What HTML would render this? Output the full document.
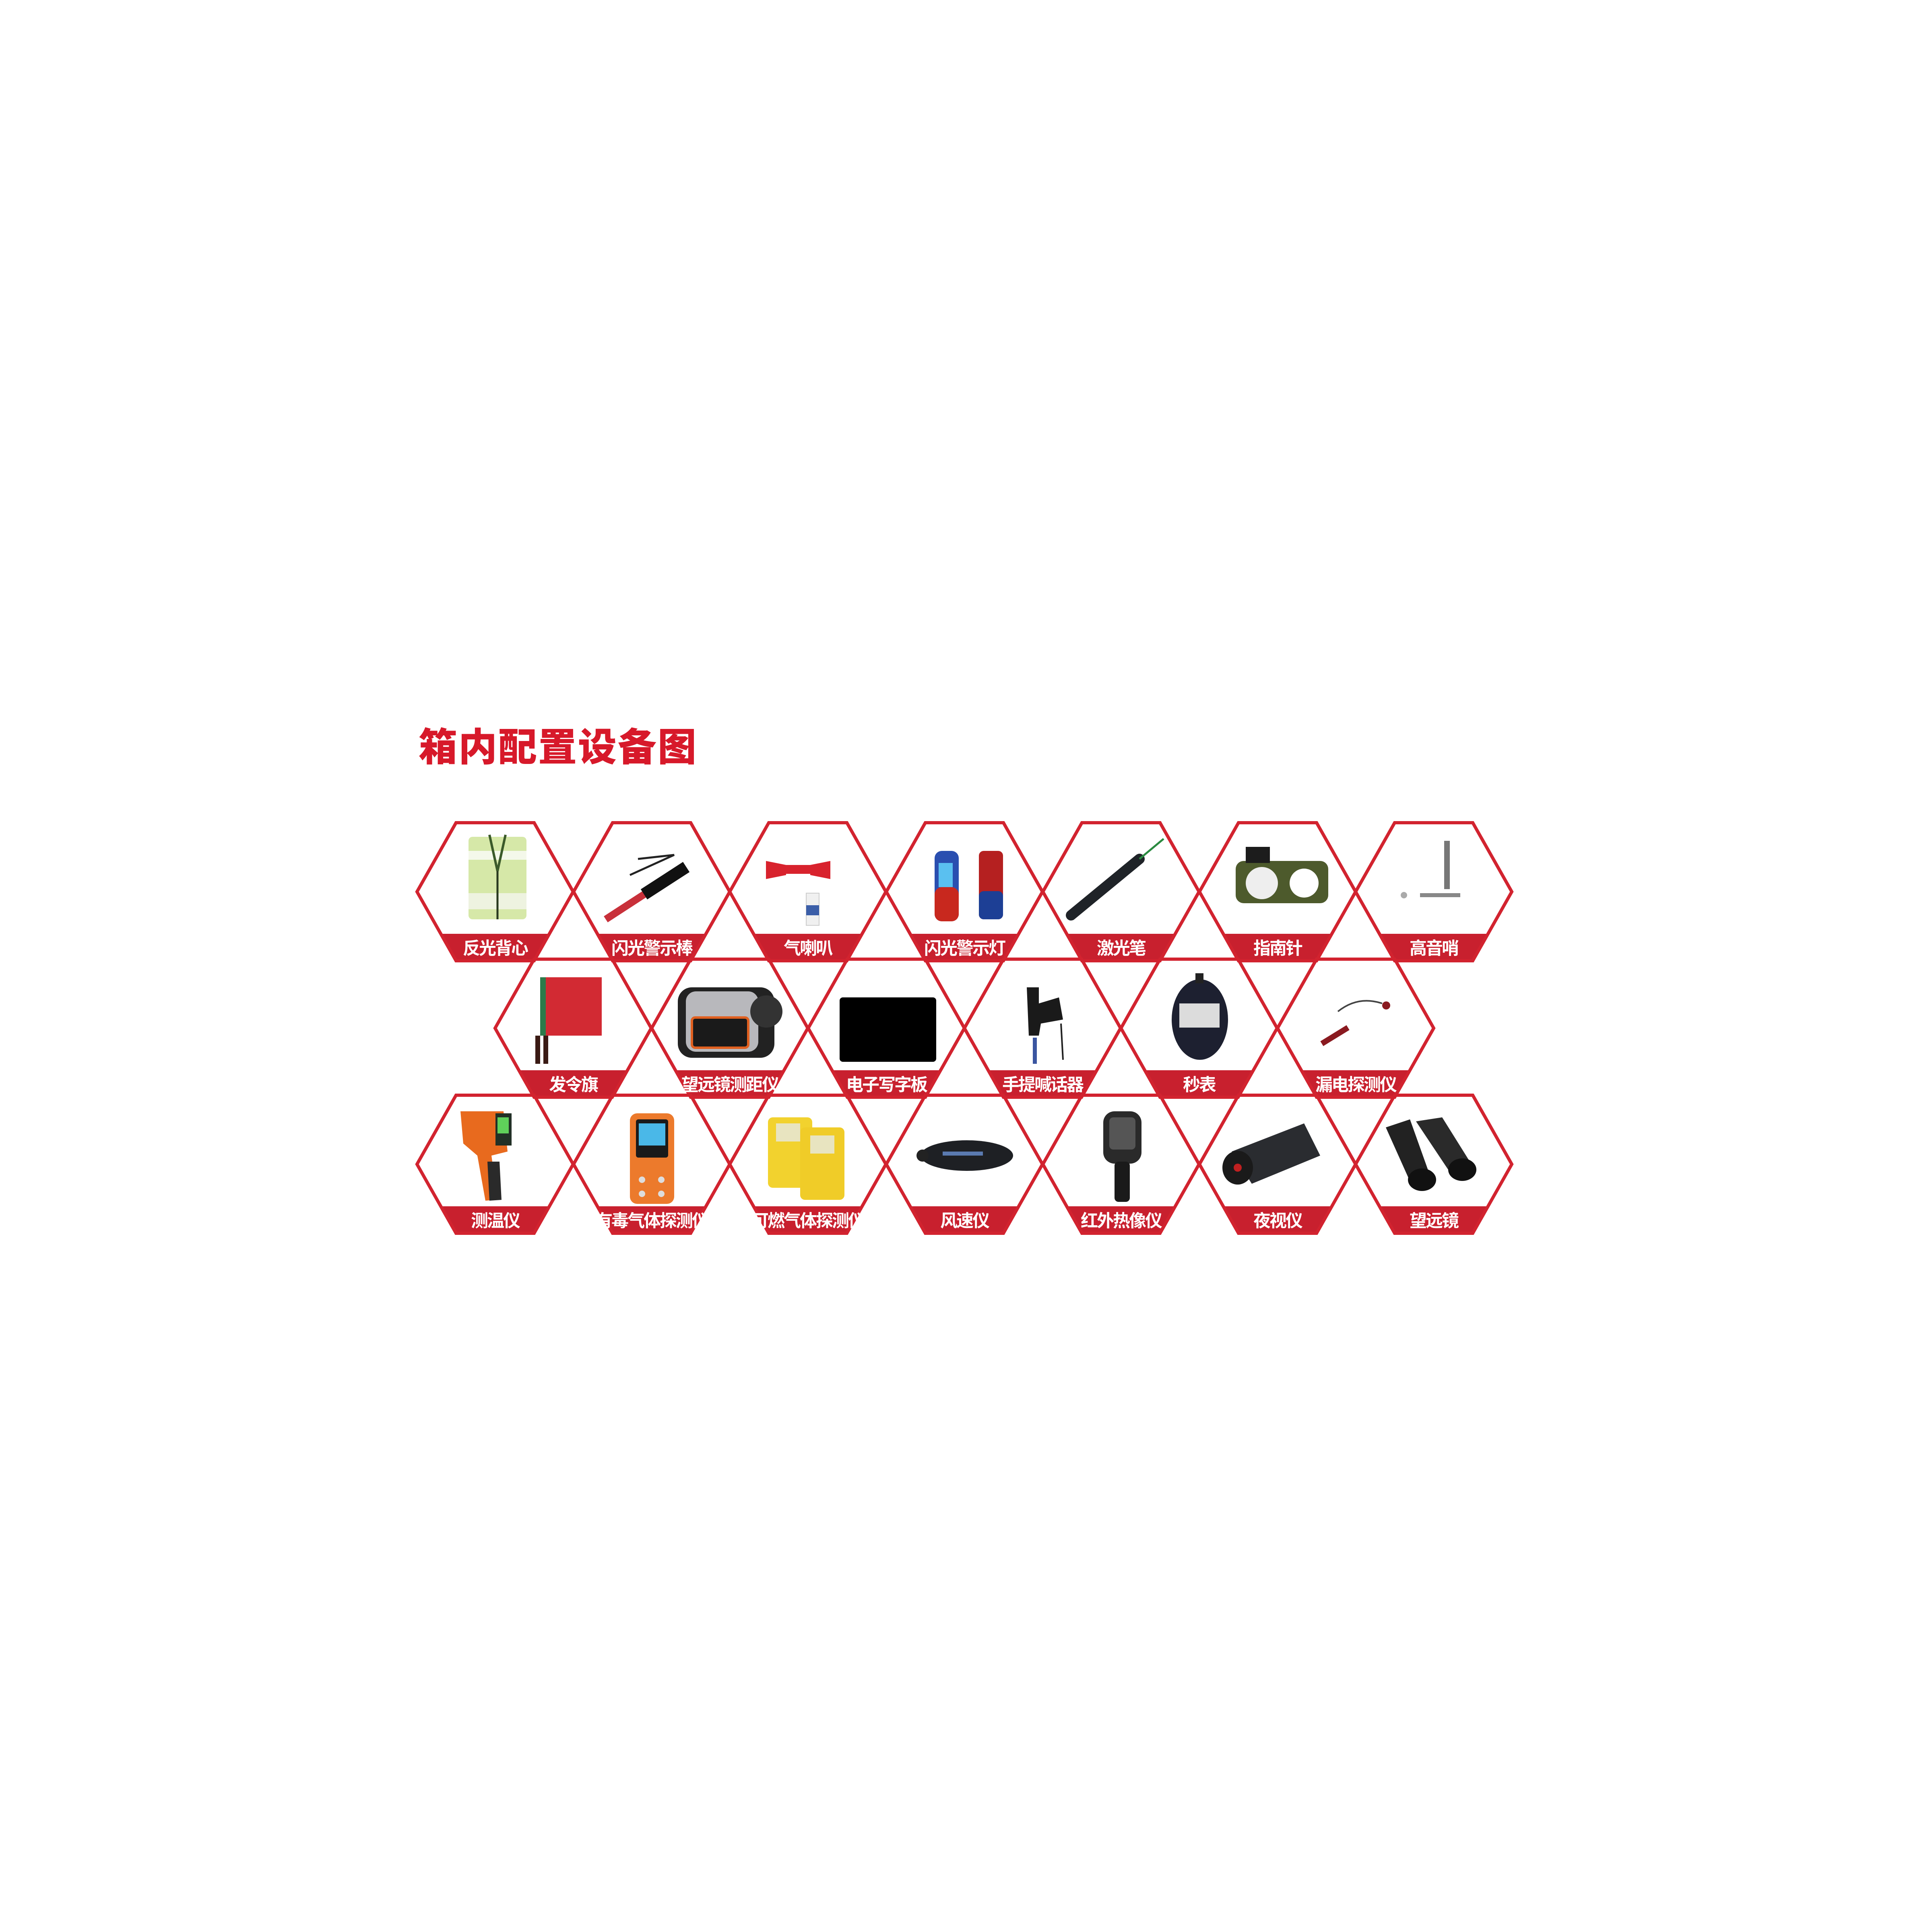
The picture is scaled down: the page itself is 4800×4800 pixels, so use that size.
<!DOCTYPE html>
<html><head><meta charset="utf-8"><style>
html,body{margin:0;padding:0;background:#fff;}
svg{display:block;}
.t{font-family:"Liberation Sans","Noto Sans CJK SC",sans-serif;font-weight:bold;fill:#fff;font-size:43px;text-anchor:middle;letter-spacing:-3px;}
.title{font-family:"Liberation Sans","Noto Sans CJK SC",sans-serif;font-weight:900;fill:#d7192a;font-size:96px;letter-spacing:3px;}
</style></head><body>
<svg width="4800" height="4800" viewBox="0 0 4800 4800" xmlns="http://www.w3.org/2000/svg">
<defs>
<g id="hx">
<polygon points="59,276 329,276 291,343 97,343" fill="#c8202e"/>
<polygon points="0,171.5 97,0 291,0 388,171.5 291,343 97,343" fill="none" stroke="#d2232f" stroke-width="8"/>
</g>
</defs>
<rect width="4800" height="4800" fill="#fff"/>
<text class="title" x="1040" y="1890">箱内配置设备图</text>

<!-- Row 1 -->
<g transform="translate(1036,2044)"><use href="#hx"/>
<rect x="128" y="35" width="144" height="205" rx="10" fill="#d6e8a8"/><rect x="128" y="70" width="144" height="22" fill="#f4f8ea"/><rect x="128" y="175" width="144" height="40" fill="#eef3e0"/><path d="M180 30 L200 120 L220 30" fill="none" stroke="#3b5a2a" stroke-width="6"/><line x1="200" y1="120" x2="200" y2="240" stroke="#2a3a20" stroke-width="5"/>
<text class="t" x="194" y="327">反光背心</text></g>
<g transform="translate(1425,2044)"><use href="#hx"/>
<line x1="80" y1="240" x2="180" y2="175" stroke="#c8303a" stroke-width="18"/><line x1="175" y1="178" x2="280" y2="110" stroke="#111" stroke-width="30"/><path d="M160 90 L250 80 L140 130" fill="none" stroke="#222" stroke-width="5"/>
<text class="t" x="194" y="327">闪光警示棒</text></g>
<g transform="translate(1813,2044)"><use href="#hx"/>
<path d="M90 95 L140 105 L140 130 L90 140Z" fill="#d8222d"/><path d="M250 95 L200 105 L200 130 L250 140Z" fill="#d8222d"/><rect x="138" y="105" width="64" height="22" fill="#d8222d"/>
<rect x="190" y="175" width="32" height="80" fill="#f0f0f0" stroke="#ccc" stroke-width="2"/><rect x="190" y="205" width="32" height="25" fill="#3b5ea8"/>
<text class="t" x="194" y="327">气喇叭</text></g>
<g transform="translate(2202,2044)"><use href="#hx"/>
<rect x="120" y="70" width="60" height="175" rx="18" fill="#2a4fb0"/><rect x="120" y="160" width="60" height="85" rx="18" fill="#c8281e"/><rect x="130" y="100" width="35" height="60" fill="#5ac0f0"/>
<rect x="230" y="70" width="60" height="170" rx="12" fill="#b52020"/><rect x="230" y="170" width="60" height="70" rx="12" fill="#1d3f95"/>
<text class="t" x="194" y="327">闪光警示灯</text></g>
<g transform="translate(2591,2044)"><use href="#hx"/>
<line x1="70" y1="230" x2="240" y2="90" stroke="#1f2328" stroke-width="26" stroke-linecap="round"/><line x1="240" y1="90" x2="300" y2="40" stroke="#2a8a40" stroke-width="5"/>
<text class="t" x="194" y="327">激光笔</text></g>
<g transform="translate(2980,2044)"><use href="#hx"/>
<rect x="90" y="95" width="230" height="105" rx="20" fill="#4d5a2c"/><circle cx="155" cy="150" r="40" fill="#eee"/><circle cx="260" cy="150" r="36" fill="#fff"/><rect x="115" y="60" width="60" height="40" fill="#1c1c1c"/>
<text class="t" x="194" y="327">指南针</text></g>
<g transform="translate(3368,2044)"><use href="#hx"/>
<rect x="220" y="45" width="14" height="120" fill="#777"/><rect x="160" y="175" width="100" height="10" fill="#888"/><circle cx="120" cy="180" r="8" fill="#aaa"/>
<text class="t" x="194" y="327">高音哨</text></g>

<!-- Row 2 -->
<g transform="translate(1230,2383)"><use href="#hx"/>
<rect x="115" y="45" width="150" height="145" fill="#d22a33"/><rect x="112" y="45" width="14" height="145" fill="#2c7a4a"/><rect x="100" y="190" width="12" height="70" fill="#3a1a14"/><rect x="120" y="190" width="12" height="70" fill="#3a1a14"/>
<text class="t" x="194" y="327">发令旗</text></g>
<g transform="translate(1619,2383)"><use href="#hx"/>
<rect x="65" y="70" width="240" height="175" rx="35" fill="#222"/><rect x="85" y="80" width="180" height="150" rx="25" fill="#b8b8bc"/><rect x="100" y="145" width="140" height="75" rx="8" fill="#1a1a1a" stroke="#e06020" stroke-width="6"/><circle cx="285" cy="130" r="40" fill="#333"/>
<text class="t" x="194" y="327">望远镜测距仪</text></g>
<g transform="translate(2008,2383)"><use href="#hx"/>
<rect x="78" y="95" width="240" height="160" rx="8" fill="#000"/>
<text class="t" x="194" y="327">电子写字板</text></g>
<g transform="translate(2396,2383)"><use href="#hx"/>
<path d="M155 70 L185 70 L185 110 L235 95 L245 150 L190 160 L185 190 L160 190Z" fill="#1a1a1a"/><rect x="170" y="195" width="10" height="65" fill="#3a55a0"/><line x1="240" y1="160" x2="245" y2="250" stroke="#222" stroke-width="4"/>
<text class="t" x="194" y="327">手提喊话器</text></g>
<g transform="translate(2785,2383)"><use href="#hx"/>
<ellipse cx="196" cy="150" rx="70" ry="100" fill="#1d2030"/><rect x="145" y="110" width="100" height="60" fill="#dcdcdc"/><rect x="185" y="35" width="20" height="25" fill="#222"/>
<text class="t" x="194" y="327">秒表</text></g>
<g transform="translate(3174,2383)"><use href="#hx"/>
<line x1="110" y1="210" x2="175" y2="170" stroke="#8a1a20" stroke-width="14"/><path d="M150 130 Q200 90 260 110" fill="none" stroke="#444" stroke-width="4"/><circle cx="270" cy="115" r="10" fill="#8a1a20"/>
<text class="t" x="194" y="327">漏电探测仪</text></g>

<!-- Row 3 -->
<g transform="translate(1036,2721)"><use href="#hx"/>
<path d="M108 40 L215 40 L225 140 L185 150 L200 260 L170 262 L150 150 L115 120Z" fill="#e86a1e"/><rect x="195" y="45" width="40" height="80" fill="#223026"/><rect x="200" y="55" width="28" height="40" fill="#5fd05a"/><path d="M175 165 L205 165 L210 260 L180 262Z" fill="#2a2a2a"/>
<text class="t" x="194" y="327">测温仪</text></g>
<g transform="translate(1425,2721)"><use href="#hx"/>
<rect x="140" y="45" width="110" height="225" rx="18" fill="#ec7a2c"/><rect x="155" y="60" width="80" height="95" rx="6" fill="#1a1a1a"/><rect x="162" y="70" width="66" height="55" fill="#4ab8e8"/><circle cx="170" cy="210" r="8" fill="#ddd"/><circle cx="218" cy="210" r="8" fill="#ddd"/><circle cx="170" cy="245" r="8" fill="#ddd"/><circle cx="218" cy="245" r="8" fill="#ddd"/>
<text class="t" x="194" y="327">有毒气体探测仪</text></g>
<g transform="translate(1813,2721)"><use href="#hx"/>
<rect x="95" y="55" width="110" height="175" rx="12" fill="#f2d22e"/><rect x="175" y="80" width="110" height="180" rx="12" fill="#f0cc28"/><rect x="115" y="70" width="60" height="45" fill="#e8e4c0"/><rect x="200" y="100" width="60" height="45" fill="#e8e4c0"/>
<text class="t" x="194" y="327">可燃气体探测仪</text></g>
<g transform="translate(2202,2721)"><use href="#hx"/>
<ellipse cx="200" cy="150" rx="115" ry="38" fill="#1e2024"/><circle cx="90" cy="150" r="15" fill="#222"/><rect x="140" y="140" width="100" height="10" fill="#5a7ab0"/>
<text class="t" x="194" y="327">风速仪</text></g>
<g transform="translate(2591,2721)"><use href="#hx"/>
<rect x="150" y="40" width="95" height="130" rx="28" fill="#2a2a2a"/><rect x="165" y="55" width="65" height="80" rx="10" fill="#555"/><rect x="178" y="165" width="38" height="100" rx="10" fill="#1a1a1a"/>
<text class="t" x="194" y="327">红外热像仪</text></g>
<g transform="translate(2980,2721)"><use href="#hx"/>
<path d="M80 140 L260 70 L300 150 L130 220Z" fill="#2a2c30"/><ellipse cx="95" cy="180" rx="38" ry="42" fill="#1a1a1a"/><circle cx="95" cy="180" r="10" fill="#c02020"/>
<text class="t" x="194" y="327">夜视仪</text></g>
<g transform="translate(3368,2721)"><use href="#hx"/>
<path d="M75 80 L135 60 L185 200 L140 225Z" fill="#222"/><path d="M150 65 L215 55 L290 175 L240 200Z" fill="#2a2a2a"/><ellipse cx="165" cy="210" rx="35" ry="28" fill="#111"/><ellipse cx="265" cy="185" rx="35" ry="28" fill="#111"/>
<text class="t" x="194" y="327">望远镜</text></g>
</svg>
</body></html>
